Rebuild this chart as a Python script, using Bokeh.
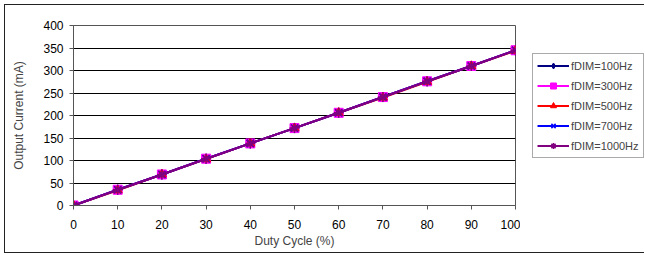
from bokeh.plotting import figure
from bokeh.layouts import row
from bokeh.models import Range1d, FixedTicker, Legend, LegendItem
from bokeh.embed import file_html
from bokeh.resources import INLINE

duty = [0, 10, 20, 30, 40, 50, 60, 70, 80, 90, 100]
i_100 = [0, 35, 69, 104, 138, 172, 206, 241, 276, 310, 345]
i_300 = [0, 35, 69, 104, 138, 172, 206, 241, 276, 310, 345]
i_500 = [0, 34, 69, 103, 138, 172, 206, 240, 275, 310, 344]
i_700 = [0, 35, 69, 104, 138, 172, 206, 241, 276, 310, 345]
i_1000 = [0, 35, 69, 104, 138, 172, 206, 241, 276, 310, 345]
labels = ["fDIM=100Hz", "fDIM=300Hz", "fDIM=500Hz", "fDIM=700Hz", "fDIM=1000Hz"]
series = [i_100, i_300, i_500, i_700, i_1000]
colors = ["#000080", "#FF00FF", "#FF0000", "#0000FF", "#800080"]
markers = ["diamond", "square", "triangle", "x", "asterisk"]
sizes = [10, 9, 9, 10, 10]
x_ticks = list(range(0, 101, 10))
y_ticks = list(range(0, 401, 50))

FONT = "Liberation Sans"
NAN = float("nan")

p = figure(width=515, height=247, output_backend="svg", toolbar_location=None,
           x_range=Range1d(0, 100), y_range=Range1d(0, 400),
           min_border_left=68, min_border_top=20, min_border_bottom=47, min_border_right=5)

p.xgrid.grid_line_color = None
p.ygrid.grid_line_color = "black"
p.ygrid.grid_line_width = 1
p.outline_line_color = "#555555"
p.outline_line_width = 1

for ax in (p.xaxis[0], p.yaxis[0]):
    ax.major_label_text_font = FONT
    ax.major_label_text_font_size = "12px"
    ax.major_label_text_color = "black"
    ax.axis_label_text_font = FONT
    ax.axis_label_text_font_size = "12px"
    ax.axis_label_text_font_style = "normal"
    ax.axis_line_color = "#555555"
    ax.major_tick_line_color = "#555555"
    ax.major_tick_out = 4
    ax.major_tick_in = 0
    ax.minor_tick_line_color = None

p.xaxis.ticker = FixedTicker(ticks=x_ticks)
p.yaxis.ticker = FixedTicker(ticks=y_ticks)
p.xaxis.axis_label = "Duty Cycle (%)"
p.yaxis.axis_label = "Output Current (mA)"
p.xaxis.axis_label_standoff = 2
p.yaxis.axis_label_standoff = 14
p.xaxis.major_label_standoff = 10
p.yaxis.major_label_standoff = 6

# legend panel as a separate figure (no axes); its frame aligns with p's frame
q = figure(width=124, height=247, output_backend="svg", toolbar_location=None,
           x_range=Range1d(0, 1), y_range=Range1d(0, 1),
           x_axis_location=None, y_axis_location=None,
           min_border_left=0, min_border_right=0, min_border_top=20, min_border_bottom=47)
q.grid.grid_line_color = None
q.outline_line_color = None

items = []
for lab, ys, c, m, s in zip(labels, series, colors, markers, sizes):
    p.line(duty, ys, line_color=c, line_width=2)
    if m in ("x", "asterisk"):
        p.scatter(duty, ys, marker=m, size=s, line_color=c, line_width=1.5)
        r2 = q.scatter([NAN], [NAN], marker=m, size=s, line_color=c, line_width=1.5)
    else:
        p.scatter(duty, ys, marker=m, size=s, fill_color=c, line_color=c)
        r2 = q.scatter([NAN], [NAN], marker=m, size=s, fill_color=c, line_color=c)
    r1 = q.line([NAN], [NAN], line_color=c, line_width=2)
    items.append(LegendItem(label=lab, renderers=[r1, r2]))

legend = Legend(items=items, location=(12, 47), label_text_font=FONT,
                label_text_font_size="11px", glyph_width=32, glyph_height=15,
                spacing=5, padding=4, margin=0, label_standoff=2,
                border_line_color="#555555", background_fill_color="white")
q.add_layout(legend, "center")

layout = row(p, q, styles={"margin-left": "4px", "margin-top": "4px",
                           "border-left": "1px solid #222",
                           "border-top": "1px solid #222",
                           "border-bottom": "1px solid #222"})
open("out.html", "w").write(file_html(layout, INLINE))
